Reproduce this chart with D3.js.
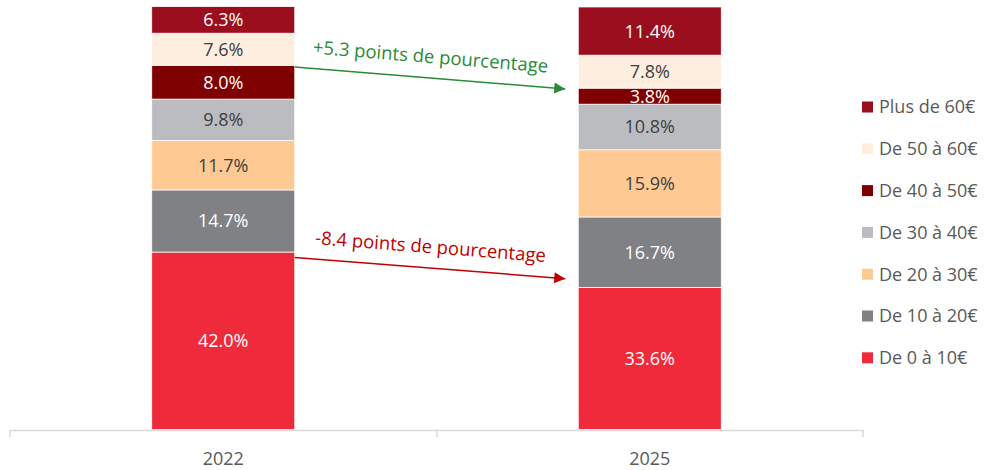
<!DOCTYPE html>
<html>
<head>
<meta charset="utf-8">
<script src="https://cdn.jsdelivr.net/npm/d3@7"></script>
<style>
  body { margin: 0; background: #fff; }
  text { font-family: "Open Sans", "Noto Sans", sans-serif; }
</style>
</head>
<body>
<div id="chart"></div>
<script>
// categories along the x axis
var years = ['2022', '2025']

// price brackets, bottom to top of each stack
var brackets = ['De 0 à 10€', 'De 10 à 20€', 'De 20 à 30€', 'De 30 à 40€', 'De 40 à 50€', 'De 50 à 60€', 'Plus de 60€']

// share of each bracket (%), same order as brackets
var values2022 = [42.0, 14.7, 11.7, 9.8, 8.0, 7.6, 6.3]
var values2025 = [33.6, 16.7, 15.9, 10.8, 3.8, 7.8, 11.4]

var bracketColors = ['#ee2a3b', '#808184', '#ffc993', '#bbbcc0', '#7f0000', '#fdeee0', '#9b0e1e']
var darkLabel = [false, false, true, true, false, true, false] // light fills get dark text

// annotation arrows: label + start / end level in % (start at 2022 bar, end at 2025 bar)
var arrowLabels = ['+5.3 points de pourcentage', '-8.4 points de pourcentage']
var arrowFrom = [85.8, 40.7]
var arrowTo = [80.6, 35.7]
var arrowColors = ['#2a8a36', '#c00000']

const width = 985
const height = 470

var svg = d3.select('#chart')
  .append('svg')
  .attr('width', width)
  .attr('height', height)

var x = d3.scaleBand().domain(years).range([10, 863]).paddingInner(0).paddingOuter(0)
var barWidth = 143
var y = d3.scaleLinear().domain([0, 100]).range([429.5, 7])

// build stacked rows from the arrays
var rows = years.map(function (yr, i) {
  var vals = i == 0 ? values2022 : values2025
  var row = { year: yr }
  brackets.forEach(function (b, j) { row[b] = vals[j] })
  return row
})
var stack = d3.stack().keys(brackets)(rows)

var barX = function (yr) { return x(yr) + (x.bandwidth() - barWidth) / 2 }

var layers = svg.selectAll('g.layer')
  .data(stack)
  .enter()
  .append('g')
  .attr('class', 'layer')
  .attr('fill', function (d, i) { return bracketColors[i] })

layers.selectAll('rect')
  .data(function (d) { return d })
  .enter()
  .append('rect')
  .attr('x', function (d) { return barX(d.data.year) })
  .attr('width', barWidth)
  .attr('y', function (d) { return y(d[1]) })
  .attr('height', function (d) { return y(d[0]) - y(d[1]) })
  .attr('stroke', '#ffffff')
  .attr('stroke-width', 0.75)

// value labels inside segments
layers.each(function (layer, li) {
  d3.select(this).selectAll('text')
    .data(layer)
    .enter()
    .append('text')
    .attr('x', function (d) { return barX(d.data.year) + barWidth / 2 })
    .attr('y', function (d) { return (y(d[0]) + y(d[1])) / 2 })
    .attr('dy', '0.36em')
    .attr('text-anchor', 'middle')
    .attr('font-size', 18)
    .attr('fill', darkLabel[li] ? '#404040' : '#ffffff')
    .text(function (d) { return (d[1] - d[0]).toFixed(1) + '%' })
})

// x axis
var axis = svg.append('g').attr('transform', 'translate(0,430)')
  .call(d3.axisBottom(x).tickSize(0))
axis.select('.domain').attr('stroke', '#d9d9d9').attr('stroke-width', 1.5)
axis.selectAll('.tick text')
  .attr('y', 35)
  .attr('dy', 0)
  .attr('font-size', 18)
  .attr('fill', '#595959')
  .style('font-family', '"Open Sans", sans-serif')
axis.selectAll('.sep')
  .data([10, 437, 863])
  .enter()
  .append('line')
  .attr('x1', function (d) { return d })
  .attr('x2', function (d) { return d })
  .attr('y1', 0)
  .attr('y2', 7)
  .attr('stroke', '#d9d9d9')
  .attr('stroke-width', 1.5)

// arrows
var defs = svg.append('defs')
arrowColors.forEach(function (c, i) {
  defs.append('marker')
    .attr('id', 'arrow' + i)
    .attr('viewBox', '0 0 10 10')
    .attr('refX', 10)
    .attr('refY', 5)
    .attr('markerWidth', 14)
    .attr('markerHeight', 11)
    .attr('markerUnits', 'userSpaceOnUse')
    .attr('orient', 'auto')
    .append('path')
    .attr('d', 'M0,0 L10,5 L0,10 Z')
    .attr('fill', c)
})

var x1 = barX('2022') + barWidth
var x2 = barX('2025') - 13
arrowLabels.forEach(function (label, i) {
  var ya = y(arrowFrom[i])
  var yb = y(arrowTo[i])
  svg.append('line')
    .attr('x1', x1)
    .attr('y1', ya)
    .attr('x2', x2)
    .attr('y2', yb)
    .attr('stroke', arrowColors[i])
    .attr('stroke-width', 1.5)
    .attr('marker-end', 'url(#arrow' + i + ')')
  var angle = Math.atan2(yb - ya, x2 - x1) * 180 / Math.PI
  var cx = (x1 + x2) / 2
  var cy = (ya + yb) / 2 - 15
  svg.append('text')
    .attr('transform', 'translate(' + cx + ',' + cy + ') rotate(' + angle + ')')
    .attr('text-anchor', 'middle')
    .attr('font-size', 18.5)
    .attr('fill', arrowColors[i])
    .text(label)
})

// legend, top entry = last bracket
var legend = svg.append('g').attr('transform', 'translate(862,107)')
var legendItems = legend.selectAll('g')
  .data(brackets.slice().reverse())
  .enter()
  .append('g')
  .attr('transform', function (d, i) { return 'translate(0,' + (i * 41.8) + ')' })
legendItems.append('rect')
  .attr('x', 0)
  .attr('y', -5.5)
  .attr('width', 11)
  .attr('height', 11)
  .attr('fill', function (d, i) { return bracketColors[brackets.length - 1 - i] })
legendItems.append('text')
  .attr('x', 17)
  .attr('dy', '0.36em')
  .attr('font-size', 18)
  .attr('fill', '#595959')
  .text(function (d) { return d })
</script>
</body>
</html>
